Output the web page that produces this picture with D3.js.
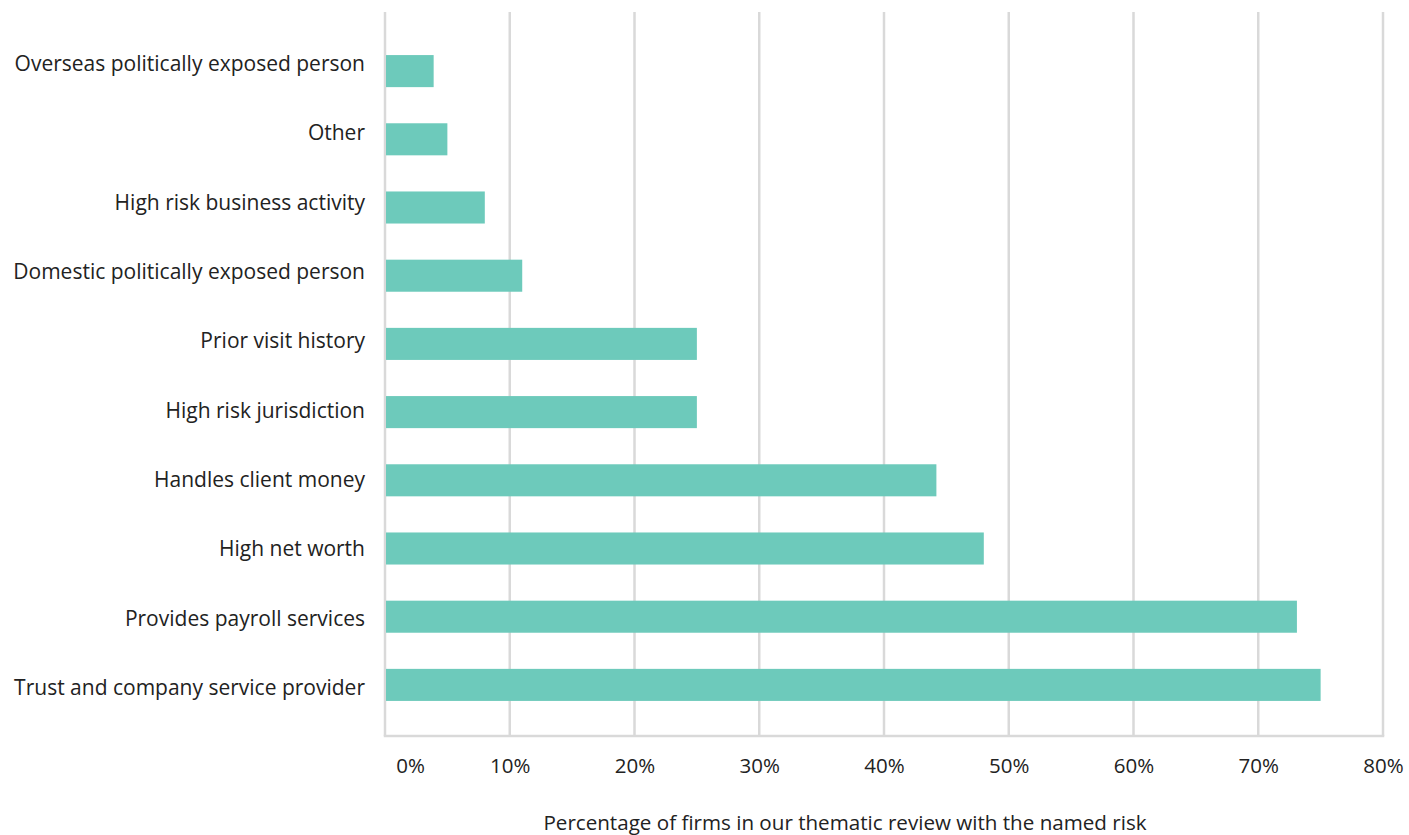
<!DOCTYPE html>
<html>
<head>
<meta charset="utf-8">
<script src="https://cdn.jsdelivr.net/npm/d3@7"></script>
<style>
  body { margin: 0; background: #fff; }
  text { font-family: "Open Sans", Lato, sans-serif; fill: #222; }
</style>
</head>
<body>
<div id="chart"></div>
<script>
"use strict";

// data, top row first
var categories = [
    "Overseas politically exposed person",
    "Other",
    "High risk business activity",
    "Domestic politically exposed person",
    "Prior visit history",
    "High risk jurisdiction",
    "Handles client money",
    "High net worth",
    "Provides payroll services",
    "Trust and company service provider"
];
var values = [3.9, 5.0, 8.0, 11.0, 25.0, 25.0, 44.2, 48.0, 73.1, 75.0];
var tickValues = [0, 10, 20, 30, 40, 50, 60, 70, 80];
var axisTitle = "Percentage of firms in our thematic review with the named risk";

var data = categories.map((c, i) => ({ name: c, value: values[i] }));

var width = 1409, height = 835;
var plot = { left: 385, right: 1383, top: 12, bottom: 736 };

var svg = d3.select("#chart")
    .append("svg")
    .attr("width", width)
    .attr("height", height);

// scales
var x = d3.scaleLinear()
    .domain([0, 80])
    .range([plot.left, plot.right]);

var y = d3.scaleBand()
    .domain(categories)
    .range([37, 719])
    .paddingInner(0.53)
    .paddingOuter(0.265);

// the category labels sit on a slightly wider spacing than the bars
var yLabel = d3.scalePoint()
    .domain(categories)
    .range([63.5, 687.5]);

// gridlines
svg.append("g")
    .selectAll("line")
    .data(tickValues)
    .join("line")
    .attr("x1", d => x(d))
    .attr("x2", d => x(d))
    .attr("y1", plot.top)
    .attr("y2", plot.bottom)
    .attr("stroke", "#d9d9d9")
    .attr("stroke-width", 2.5);

// bottom frame line
svg.append("line")
    .attr("x1", x(0) - 1.25)
    .attr("x2", x(80) + 1.25)
    .attr("y1", plot.bottom)
    .attr("y2", plot.bottom)
    .attr("stroke", "#d9d9d9")
    .attr("stroke-width", 2.5);

// bars
svg.append("g")
    .selectAll("rect")
    .data(data)
    .join("rect")
    .attr("x", x(0) + 1)
    .attr("y", d => y(d.name))
    .attr("width", d => x(d.value) - x(0) - 1)
    .attr("height", y.bandwidth())
    .attr("fill", "#6dcabb");

// category labels
svg.append("g")
    .selectAll("text")
    .data(data)
    .join("text")
    .attr("x", 365)
    .attr("y", d => yLabel(d.name))
    .attr("dy", "0.35em")
    .attr("text-anchor", "end")
    .style("font-size", "21px")
    .text(d => d.name);

// x axis labels (0% sits a little right of its gridline in the original)
var xAxis = d3.axisBottom(x)
    .tickValues(tickValues)
    .tickFormat(d => d + "%")
    .tickSize(0)
    .tickPadding(0);

var gx = svg.append("g")
    .attr("transform", `translate(0,${plot.bottom})`)
    .call(xAxis);
gx.select(".domain").remove();
gx.selectAll("text")
    .attr("y", 37)
    .attr("dy", 0)
    .style("font-size", "20.5px")
    .style("font-family", "'Open Sans', Lato, sans-serif")
    .attr("fill", "#222")
    .attr("dx", d => d === 0 ? 25 : 0);

svg.append("text")
    .attr("x", 845)
    .attr("y", 830)
    .attr("text-anchor", "middle")
    .style("font-size", "20.6px")
    .text(axisTitle);
</script>
</body>
</html>
